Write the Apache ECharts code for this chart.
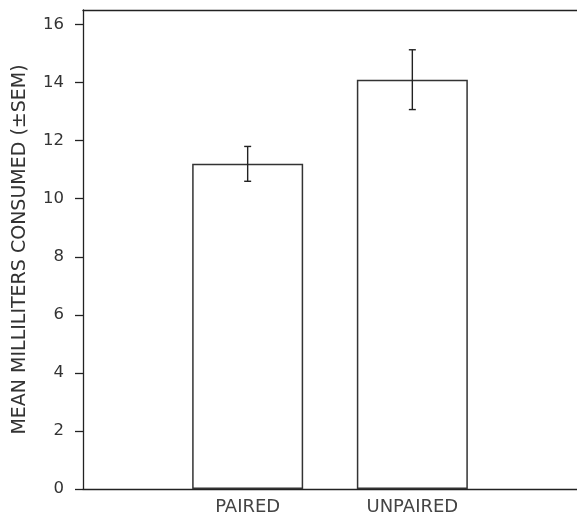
<!DOCTYPE html>
<html>
<head>
<meta charset="utf-8">
<script src="https://cdn.jsdelivr.net/npm/echarts@6/dist/echarts.min.js"></script>
<style>html,body{margin:0;padding:0;background:#fff;}#c{width:577px;height:516px;}</style>
</head>
<body>
<div id="c"></div>
<script>
const categories = ['PAIRED', 'UNPAIRED'];
const means = [11.2, 14.1];
const sems = [0.6, 1.03];
const yTicks = [0, 2, 4, 6, 8, 10, 12, 14, 16];
const yTitle = 'MEAN MILLILITERS CONSUMED (\u00B1SEM)';

const barData = categories.map((c, i) => [i + 1, means[i]]);
const errData = categories.map((c, i) => [i + 1, means[i] - sems[i], means[i] + sems[i]]);

const lineCol = '#222';
const chart = echarts.init(document.getElementById('c'));
chart.setOption({
  animation: false,
  backgroundColor: '#fff',
  grid: { left: 83, right: 0, top: 10, bottom: 23 },
  xAxis: [{
    type: 'value', min: 0, max: 3, interval: 1,
    axisLine: { show: true, lineStyle: { color: lineCol, width: 1.3 } },
    axisTick: { show: false },
    splitLine: { show: false },
    axisLabel: {
      customValues: [1, 2],
      margin: 9,
      fontFamily: 'DejaVu Sans', fontSize: 18, color: '#444',
      formatter: v => categories[Math.round(v) - 1] || ''
    }
  }, {
    type: 'value', min: 0, max: 3, position: 'top',
    axisLine: { show: true, lineStyle: { color: lineCol, width: 1.3 } },
    axisTick: { show: false }, axisLabel: { show: false }, splitLine: { show: false }
  }],
  yAxis: {
    type: 'value', min: 0, max: 16.5, interval: 2,
    name: yTitle, nameLocation: 'middle', nameGap: 53, nameRotate: 90,
    nameTextStyle: { fontFamily: 'DejaVu Sans', fontSize: 19, color: '#333' },
    axisLine: { show: true, lineStyle: { color: lineCol, width: 1.3 } },
    axisTick: { show: true, customValues: yTicks, length: 8, lineStyle: { color: lineCol, width: 1.3 } },
    splitLine: { show: false },
    axisLabel: {
      customValues: yTicks, margin: 19,
      fontFamily: 'DejaVu Sans', fontSize: 16.5, color: '#333'
    }
  },
  series: [{
    type: 'bar',
    data: barData,
    barWidth: 111,
    itemStyle: { color: '#fff', borderColor: '#333', borderWidth: 1.5 },
    z: 2
  }, {
    type: 'custom',
    data: errData,
    z: 3,
    renderItem: function (params, api) {
      const x = api.value(0);
      const lo = api.coord([x, api.value(1)]);
      const hi = api.coord([x, api.value(2)]);
      const cap = 3.5;
      const st = { stroke: lineCol, lineWidth: 1.4 };
      return {
        type: 'group',
        children: [
          { type: 'line', shape: { x1: lo[0], y1: lo[1], x2: hi[0], y2: hi[1] }, style: st },
          { type: 'line', shape: { x1: hi[0] - cap, y1: hi[1], x2: hi[0] + cap, y2: hi[1] }, style: st },
          { type: 'line', shape: { x1: lo[0] - cap, y1: lo[1], x2: lo[0] + cap, y2: lo[1] }, style: st }
        ]
      };
    }
  }]
});
</script>
</body>
</html>
